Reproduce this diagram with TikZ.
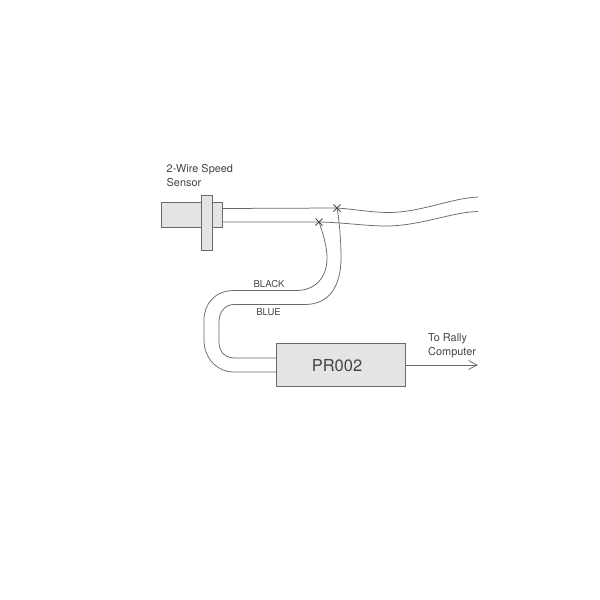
\documentclass[tikz,border=0pt]{standalone}
\usepackage{fontspec}
\setmainfont{TeX Gyre Heros}
\definecolor{partfill}{HTML}{E3E4E5}
\definecolor{linegrey}{HTML}{6A6A6A}
\definecolor{textgrey}{HTML}{454545}
\tikzset{
  part/.style={draw=linegrey,fill=partfill,line width=0.9pt,inner sep=0pt,minimum width=#1},
  wire/.style={draw=linegrey,line width=0.75pt},
  lbl/.style={text=textgrey,font=\fontsize{10.9}{14}\selectfont,inner sep=0pt,align=left},
  smalllbl/.style={text=textgrey,font=\fontsize{9.5}{11}\selectfont,inner sep=0pt},
  crossmark/.style={draw=linegrey!70!black,line width=0.8pt}
}
\begin{document}
\begin{tikzpicture}[x=1pt,y=-1pt]
\useasboundingbox (0,0) rectangle (600,600);
\fill[white] (0,0) rectangle (600,600);
% sensor
\node[part=61pt,minimum height=25pt] (body) at (192,215) {};
\node[part=11pt,minimum height=55pt] (flange) at (206.5,222.5) {};
% PR002
\node[part=128.5pt,minimum height=43pt] (pr) at (341,365) {};
\node[font=\fontsize{16.5}{20}\selectfont,text=textgrey,inner sep=0pt] (prlabel) at (337,365.5) {PR002};
% junctions
\coordinate (j1) at (337,208);
\coordinate (j2) at (319,222);
\coordinate (s1) at (222.5,208.5);
\coordinate (s2) at (222.5,222);
\coordinate (e1) at (478,197);
\coordinate (e2) at (478,211.5);
\coordinate (p1) at (277,358);
\coordinate (p2) at (277,372);
\coordinate (out) at (477,365);
% sensor cable
\draw[wire] (s1) -- (j1) .. controls (357,209.5) and (372,212.5) .. (389,212.5)
   .. controls (420,212.5) and (452,198) .. (e1);
\draw[wire] (s2) -- (j2) .. controls (345,222.5) and (365,226) .. (386,226)
   .. controls (420,226) and (452,212) .. (e2);
% loop
\draw[wire] (j2) .. controls (324,236) and (327,248) .. (327,258)
   .. controls (327,278) and (315,290.5) .. (296,290.5)
   -- (234,290.5) .. controls (215,290.5) and (204,304) .. (204,320)
   -- (204,340) .. controls (204,358) and (217,372) .. (234,372) -- (p2);
\draw[wire] (j1) .. controls (340,225) and (341,245) .. (341,258)
   .. controls (341,285) and (330,304.5) .. (305,304.5)
   -- (234,304.5) .. controls (225,304.5) and (219,312) .. (219,322)
   -- (219,342) .. controls (219,352) and (225,358) .. (235,358) -- (p1);
% cross marks
\draw[crossmark] ([shift={(-3.5,-3.5)}]j1) -- ([shift={(3.5,3.5)}]j1) ([shift={(-3.5,3.5)}]j1) -- ([shift={(3.5,-3.5)}]j1);
\draw[crossmark] ([shift={(-3.5,-3.5)}]j2) -- ([shift={(3.5,3.5)}]j2) ([shift={(-3.5,3.5)}]j2) -- ([shift={(3.5,-3.5)}]j2);
% output
\draw[wire] (pr.east) -- (out);
\draw[wire] (468.5,360.5) -- (out) -- (468.5,369.5);
% labels
\node[lbl,anchor=north west] (title) at (166.5,164) {2-Wire Speed\\Sensor};
\node[lbl,anchor=north west] (rally) at (428,333) {To Rally\\Computer};
\node[smalllbl] (black) at (269,284) {BLACK};
\node[smalllbl] (blue) at (268.5,312) {BLUE};
\end{tikzpicture}
\end{document}
